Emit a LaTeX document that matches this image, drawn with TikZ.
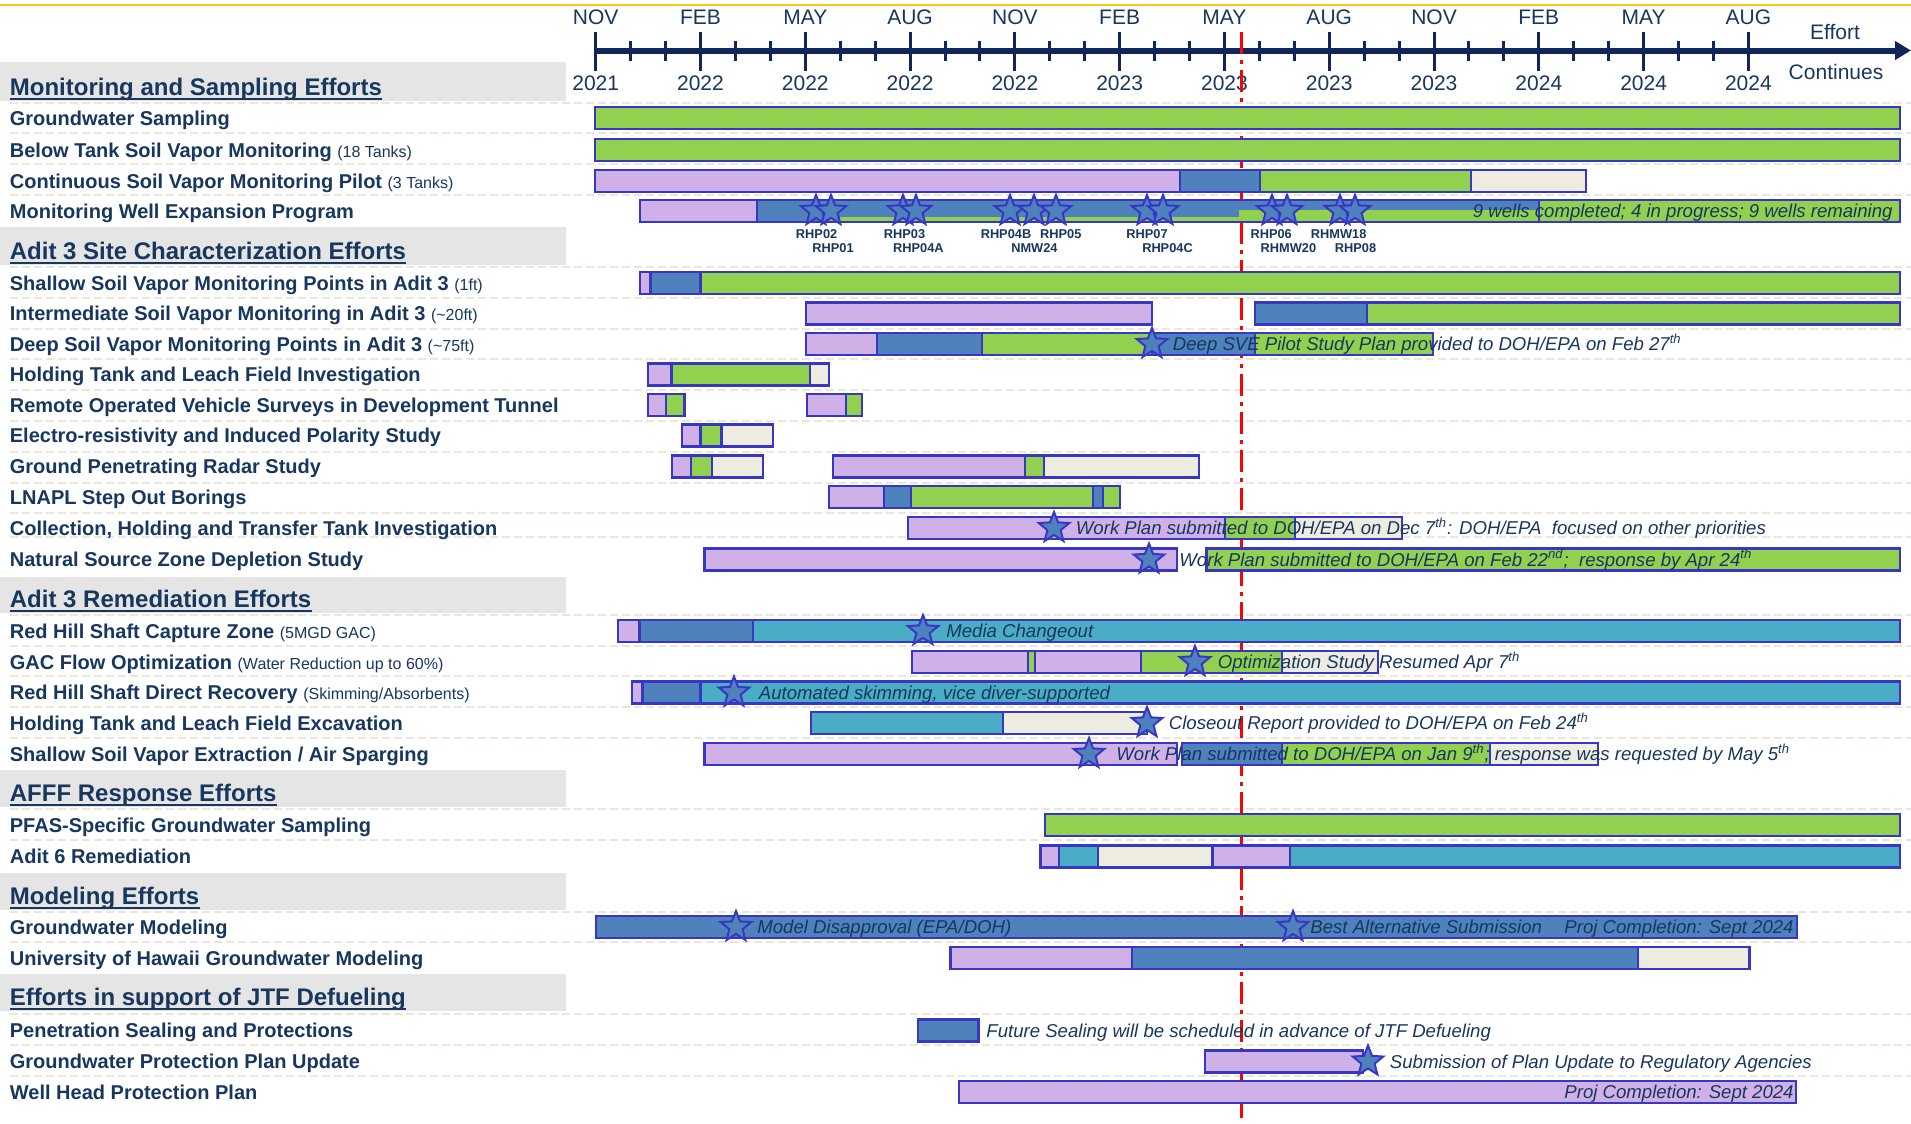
\documentclass[tikz,border=0pt]{standalone}
\usepackage{fontspec}
\setmainfont{Liberation Sans}
\usetikzlibrary{shapes.geometric,calc,arrows.meta}
\definecolor{txt}{RGB}{23,55,94}
\definecolor{axisc}{RGB}{16,37,90}
\definecolor{purp}{RGB}{207,177,231}
\definecolor{blu}{RGB}{79,129,189}
\definecolor{grn}{RGB}{146,208,80}
\definecolor{tealc}{RGB}{75,172,198}
\definecolor{beig}{RGB}{238,236,225}
\definecolor{bord}{RGB}{55,55,195}
\definecolor{bandc}{RGB}{229,229,229}
\definecolor{sepc}{RGB}{234,231,218}
\definecolor{goldc}{RGB}{250,200,20}
\newcommand\gseg[4]{\draw[segst,fill=#4] (#1,{#3-11}) rectangle (#2,{#3+11});}
\newcommand\rhpar[1]{{\fontsize{8}{9}\selectfont\mdseries(#1)}}
\begin{document}
\begin{tikzpicture}[x=0.5pt,y=-0.5pt,
  segst/.style={draw=bord, line width=1.2pt},
  mstar/.style={star, star points=5, star point ratio=2.3, minimum size=16pt, inner sep=0pt, fill=blu, draw=bord, line width=1pt},
  rowlab/.style={anchor=base west, inner sep=0pt, text=txt, font=\fontsize{10}{12}\selectfont\bfseries},
  headlab/.style={anchor=base west, inner sep=0pt, text=txt, font=\fontsize{12}{14}\selectfont\bfseries},
  annot/.style={anchor=base west, inner sep=0pt, text=txt, font=\fontsize{9.3}{11}\selectfont\itshape},
  annotr/.style={annot, anchor=base east},
  wlab/.style={inner sep=0pt, text=txt, font=\fontsize{6.4}{7}\selectfont\bfseries},
  tlab/.style={inner sep=0pt, text=txt, font=\fontsize{10.5}{12}\selectfont},
  rowsep/.style={draw=sepc, line width=1pt, dash pattern=on 4pt off 2pt}]
\useasboundingbox (0,0) rectangle (1911,1124);
\fill[white] (0,0) rectangle (1911,1124);
% top gold rule
\draw[goldc, line width=1pt] (0,5) -- (1911,5);
% heading bands
\fill[bandc] (0,62) rectangle (566,101);
\fill[bandc] (0,227) rectangle (566,265);
\fill[bandc] (0,576.5) rectangle (566,613);
\fill[bandc] (0,770) rectangle (566,807);
\fill[bandc] (0,873) rectangle (566,910);
\fill[bandc] (0,974) rectangle (566,1011);
% row separators
\foreach \yy in {103,133,164,195,267,298,328.5,359,390,421,452,482.5,513,537,615,646,676,707,738,809,840,912,942,1014,1045,1076}
  \draw[rowsep] (10,\yy) -- (1911,\yy);
% timeline
\draw[axisc, line width=3pt, -{Triangle[length=8pt,width=9pt]}] (595.7,50.5) -- (1911,50.5);
\foreach \m in {0,...,33} \draw[axisc, line width=1.5pt] ({595.7+34.93*\m},41) -- ({595.7+34.93*\m},61);
\foreach \m in {0,3,...,33} \draw[axisc, line width=1.5pt] ({595.7+34.93*\m},32) -- ({595.7+34.93*\m},71);
\foreach \mo/\yr [count=\i from 0] in {NOV/2021,FEB/2022,MAY/2022,AUG/2022,NOV/2022,FEB/2023,MAY/2023,AUG/2023,NOV/2023,FEB/2024,MAY/2024,AUG/2024}{
  \node[tlab] (mo\i) at ({595.7+104.79*\i},17.5) {\mo};
  \node[tlab] (yr\i) at ({595.7+104.79*\i},83.5) {\yr};
}
\node[tlab] (eff) at (1835,32) {Effort};
\node[tlab] (cont) at (1836,72) {Continues};
% today line
\draw[red, line width=1.5pt, dash pattern=on 11pt off 3pt on 2pt off 3pt] (1241.7,32) -- (1241.7,1124);
% headings
\node[headlab] (h1) at (9.5,95) {Monitoring and Sampling Efforts};
\node[headlab] (h2) at (9.5,259) {Adit 3 Site Characterization Efforts};
\node[headlab] (h3) at (9.5,607) {Adit 3 Remediation Efforts};
\node[headlab] (h4) at (9.5,801) {AFFF Response Efforts};
\node[headlab] (h5) at (9.5,904) {Modeling Efforts};
\node[headlab] (h6) at (9.5,1005) {Efforts in support of JTF Defueling};
\foreach \h in {h1,h2,h3,h4,h5,h6}
  \draw[txt, line width=0.9pt] ($(\h.base west)+(0,4)$) -- ($(\h.base east)+(0,4)$);
% row labels
\node[rowlab] (r1) at (9.5,125.2) {Groundwater Sampling};
\node[rowlab] (r2) at (9.5,157.2) {Below Tank Soil Vapor Monitoring \rhpar{18 Tanks}};
\node[rowlab] (r3) at (9.5,188.2) {Continuous Soil Vapor Monitoring Pilot \rhpar{3 Tanks}};
\node[rowlab] (r4) at (9.5,218.2) {Monitoring Well Expansion Program};
\node[rowlab] (r5) at (9.5,290.2) {Shallow Soil Vapor Monitoring Points in Adit 3 \rhpar{1ft}};
\node[rowlab] (r6) at (9.5,320.7) {Intermediate Soil Vapor Monitoring in Adit 3 \rhpar{\textasciitilde20ft}};
\node[rowlab] (r7) at (9.5,351.2) {Deep Soil Vapor Monitoring Points in Adit 3 \rhpar{\textasciitilde75ft}};
\node[rowlab] (r8) at (9.5,381.7) {Holding Tank and Leach Field Investigation};
\node[rowlab] (r9) at (9.5,412.2) {Remote Operated Vehicle Surveys in Development Tunnel};
\node[rowlab] (r10) at (9.5,442.7) {Electro-resistivity and Induced Polarity Study};
\node[rowlab] (r11) at (9.5,473.7) {Ground Penetrating Radar Study};
\node[rowlab] (r12) at (9.5,504.2) {LNAPL Step Out Borings};
\node[rowlab] (r13) at (9.5,535.2) {Collection, Holding and Transfer Tank Investigation};
\node[rowlab] (r14) at (9.5,566.7) {Natural Source Zone Depletion Study};
\node[rowlab] (r15) at (9.5,638.2) {Red Hill Shaft Capture Zone \rhpar{5MGD GAC}};
\node[rowlab] (r16) at (9.5,669.2) {GAC Flow Optimization \rhpar{Water Reduction up to 60\%}};
\node[rowlab] (r17) at (9.5,699.7) {Red Hill Shaft Direct Recovery \rhpar{Skimming/Absorbents}};
\node[rowlab] (r18) at (9.5,730.2) {Holding Tank and Leach Field Excavation};
\node[rowlab] (r19) at (9.5,761.2) {Shallow Soil Vapor Extraction / Air Sparging};
\node[rowlab] (r20) at (9.5,832.2) {PFAS-Specific Groundwater Sampling};
\node[rowlab] (r21) at (9.5,863.7) {Adit 6 Remediation};
\node[rowlab] (r22) at (9.5,934.2) {Groundwater Modeling};
\node[rowlab] (r23) at (9.5,965.2) {University of Hawaii Groundwater Modeling};
\node[rowlab] (r24) at (9.5,1037.7) {Penetration Sealing and Protections};
\node[rowlab] (r25) at (9.5,1068.7) {Groundwater Protection Plan Update};
\node[rowlab] (r26) at (9.5,1099.2) {Well Head Protection Plan};
% ---- bars ----
\gseg{595}{1900}{118}{grn}
\gseg{595}{1900}{150}{grn}
\gseg{595}{1180}{181}{purp}\gseg{1180}{1260}{181}{blu}\gseg{1260}{1471}{181}{grn}\gseg{1471}{1586}{181}{beig}
% MWEP
\gseg{640}{757}{211}{purp}\gseg{757}{1539}{211}{blu}
\fill[grn] (830,216.5) rectangle (1239,220.6);
\fill[grn] (1239,210) rectangle (1539,220.6);
\gseg{1539}{1900}{211}{grn}
\foreach \sx [count=\k] in {816,831,903,916,1010,1034,1056,1147,1163,1272,1287,1340,1355}
  \node[mstar] (ws\k) at (\sx,211) {};
\node[annotr] (t0) at (1893,217.8) {9 wells completed; 4 in progress; 9 wells remaining};
\node[wlab] (w1) at (816.6,234.3) {RHP02};
\node[wlab] (w2) at (833,248.3) {RHP01};
\node[wlab] (w3) at (904.5,234.3) {RHP03};
\node[wlab] (w4) at (918.4,248.3) {RHP04A};
\node[wlab] (w5) at (1006,234.3) {RHP04B};
\node[wlab] (w6) at (1034.4,248.3) {NMW24};
\node[wlab] (w7) at (1060.8,234.3) {RHP05};
\node[wlab] (w8) at (1147,234.3) {RHP07};
\node[wlab] (w9) at (1167.5,248.3) {RHP04C};
\node[wlab] (w10) at (1271.2,234.3) {RHP06};
\node[wlab] (w11) at (1288.4,248.3) {RHMW20};
\node[wlab] (w12) at (1338.7,234.3) {RHMW18};
\node[wlab] (w13) at (1355.5,248.3) {RHP08};
% Adit 3 site characterization
\gseg{640}{650.5}{283}{purp}\gseg{650.5}{700.5}{283}{blu}\gseg{700.5}{1900}{283}{grn}
\gseg{806}{1152}{313.5}{purp}\gseg{1255}{1367}{313.5}{blu}\gseg{1367}{1900}{313.5}{grn}
\gseg{806}{877}{344}{purp}\gseg{877}{982}{344}{blu}\gseg{982}{1152}{344}{grn}\gseg{1152}{1255}{344}{blu}\gseg{1255}{1433}{344}{grn}
\gseg{648}{671.5}{374.5}{purp}\gseg{671.5}{810}{374.5}{grn}\gseg{810}{829}{374.5}{beig}
\gseg{648}{666}{405}{purp}\gseg{666}{684.5}{405}{grn}\gseg{807}{846}{405}{purp}\gseg{846}{862}{405}{grn}
\gseg{682}{700.5}{435.5}{purp}\gseg{700.5}{721.5}{435.5}{grn}\gseg{721.5}{773}{435.5}{beig}
\gseg{672}{691}{466.5}{purp}\gseg{691}{712}{466.5}{grn}\gseg{712}{763}{466.5}{beig}
\gseg{833}{1025}{466.5}{purp}\gseg{1025}{1044}{466.5}{grn}\gseg{1044}{1199}{466.5}{beig}
\gseg{829}{884}{497}{purp}\gseg{884}{911}{497}{blu}\gseg{911}{1093}{497}{grn}\gseg{1093}{1103}{497}{blu}\gseg{1103}{1120}{497}{grn}
\gseg{908}{1225}{528}{purp}\gseg{1225}{1295}{528}{grn}\gseg{1295}{1402}{528}{beig}
\gseg{704.5}{1177}{559.5}{purp}\gseg{1206.5}{1900}{559.5}{grn}
% Adit 3 remediation
\gseg{618}{639.5}{631}{purp}\gseg{639.5}{753}{631}{blu}\gseg{753}{1900}{631}{tealc}
\gseg{912}{1028}{662}{purp}\gseg{1028}{1035}{662}{grn}\gseg{1035}{1141}{662}{purp}\gseg{1141}{1282}{662}{grn}\gseg{1282}{1378}{662}{beig}
\gseg{632}{642.5}{692.5}{purp}\gseg{642.5}{700.5}{692.5}{blu}\gseg{700.5}{1900}{692.5}{tealc}
\gseg{811}{1003}{723}{tealc}\gseg{1003}{1147}{723}{beig}
\gseg{704.5}{1177}{754}{purp}\gseg{1182}{1282}{754}{blu}\gseg{1282}{1490}{754}{grn}\gseg{1490}{1598}{754}{beig}
% AFFF
\gseg{1045}{1900}{825}{grn}
\gseg{1040.5}{1059}{856.5}{purp}\gseg{1059}{1098}{856.5}{tealc}\gseg{1098}{1212.5}{856.5}{beig}\gseg{1212.5}{1290}{856.5}{purp}\gseg{1290}{1900}{856.5}{tealc}
% Modeling
\gseg{596}{1797}{927}{blu}
\gseg{950.5}{1132}{958}{purp}\gseg{1132}{1638}{958}{blu}\gseg{1638}{1749.5}{958}{beig}
% JTF
\gseg{918}{978.5}{1030.5}{blu}
\gseg{1205}{1363}{1061.5}{purp}
\gseg{959}{1796}{1092}{purp}
% ---- milestone stars ----
\node[mstar] (s1) at (1152,344) {};
\node[mstar] (s2) at (1054,528) {};
\node[mstar] (s3) at (1149,559.5) {};
\node[mstar] (s4) at (923,631) {};
\node[mstar] (s5) at (1195,662) {};
\node[mstar] (s6) at (734,692.5) {};
\node[mstar] (s7) at (1147,723) {};
\node[mstar] (s8) at (1089,754) {};
\node[mstar] (s9) at (736,927) {};
\node[mstar] (s10) at (1293,927) {};
\node[mstar] (s11) at (1368,1061.5) {};
% ---- annotations ----
\node[annot] (t1) at (1172.5,350.8) {Deep SVE Pilot Study Plan provided to DOH/EPA on Feb 27\textsuperscript{th}};
\node[annot] (t2) at (1075.5,534.8) {Work Plan submitted to DOH/EPA on Dec 7\textsuperscript{th}: DOH/EPA\ \ focused on other priorities};
\node[annot] (t3) at (1179,566.3) {Work Plan submitted to DOH/EPA on Feb 22\textsuperscript{nd};\ \ response by Apr 24\textsuperscript{th}};
\node[annot] (t4) at (946,637.8) {Media Changeout};
\node[annot] (t5) at (1217.5,668.8) {Optimization Study Resumed Apr 7\textsuperscript{th}};
\node[annot] (t6) at (758.5,699.3) {Automated skimming, vice diver-supported};
\node[annot] (t7) at (1168.5,729.8) {Closeout Report provided to DOH/EPA on Feb 24\textsuperscript{th}};
\node[annot] (t8) at (1116,760.8) {Work Plan submitted to DOH/EPA on Jan 9\textsuperscript{th}; response was requested by May 5\textsuperscript{th}};
\node[annot] (t9) at (757,933.8) {Model Disapproval (EPA/DOH)};
\node[annot] (t10) at (1310,933.8) {Best Alternative Submission};
\node[annotr] (t11) at (1794,933.8) {Proj Completion: Sept 2024};
\node[annot] (t12) at (986,1037.3) {Future Sealing will be scheduled in advance of JTF Defueling};
\node[annot] (t13) at (1389.5,1068.3) {Submission of Plan Update to Regulatory Agencies};
\node[annotr] (t14) at (1794,1098.8) {Proj Completion: Sept 2024};
\end{tikzpicture}
\end{document}
